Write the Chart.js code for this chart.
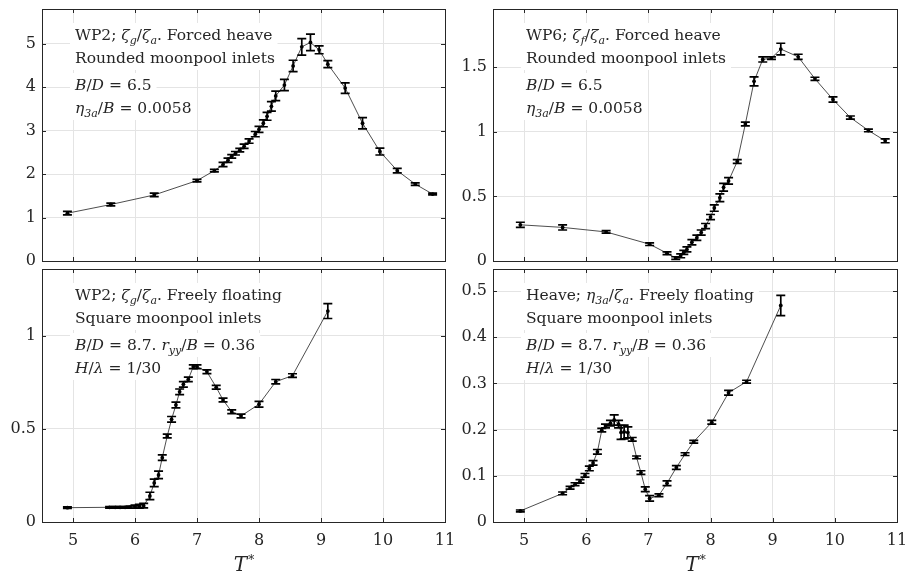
<!DOCTYPE html>
<html>
<head>
<meta charset="utf-8">
<script src="https://cdn.jsdelivr.net/npm/chart.js@4"></script>
<style>
body { margin: 0; background: #fff; width: 907px; height: 579px; overflow: hidden; }
canvas { position: absolute; }
</style>
</head>
<body>
<canvas id="tl" width="460" height="265" style="left:0;top:0"></canvas>
<canvas id="tr" width="457" height="265" style="left:450px;top:0"></canvas>
<canvas id="bl" width="460" height="314" style="left:0;top:265px"></canvas>
<canvas id="br" width="457" height="314" style="left:450px;top:265px"></canvas>
<script>
// x axis (T*) shared by all four panels
var xTicks = [5, 6, 7, 8, 9, 10, 11];

// WP2, forced heave, rounded inlets
var wp2ForcedT = [4.91, 5.61, 6.31, 7.00, 7.28, 7.42, 7.50, 7.56, 7.62, 7.69, 7.76, 7.84, 7.94, 8.00, 8.07, 8.13, 8.20, 8.27, 8.41, 8.55, 8.69, 8.83, 8.97, 9.11, 9.39, 9.67, 9.95, 10.23, 10.52, 10.80];
var wp2ForcedAmp = [1.10, 1.30, 1.52, 1.85, 2.08, 2.22, 2.32, 2.41, 2.48, 2.55, 2.64, 2.76, 2.92, 3.03, 3.17, 3.33, 3.56, 3.80, 4.05, 4.49, 4.93, 5.03, 4.86, 4.53, 3.98, 3.17, 2.52, 2.08, 1.77, 1.54];
var wp2ForcedErr = [0.04, 0.03, 0.04, 0.03, 0.03, 0.05, 0.05, 0.04, 0.04, 0.04, 0.05, 0.05, 0.06, 0.07, 0.08, 0.09, 0.11, 0.11, 0.13, 0.13, 0.19, 0.19, 0.09, 0.08, 0.12, 0.13, 0.08, 0.05, 0.03, 0.02];
var wp2ForcedTicks = [0, 1, 2, 3, 4, 5];

// WP6, forced heave, rounded inlets
var wp6ForcedT = [4.94, 5.62, 6.32, 7.02, 7.30, 7.44, 7.52, 7.57, 7.62, 7.70, 7.78, 7.85, 7.92, 8.00, 8.06, 8.15, 8.21, 8.29, 8.43, 8.56, 8.70, 8.84, 8.98, 9.13, 9.41, 9.68, 9.97, 10.25, 10.54, 10.81];
var wp6ForcedAmp = [0.28, 0.26, 0.225, 0.13, 0.06, 0.023, 0.04, 0.067, 0.09, 0.145, 0.18, 0.22, 0.27, 0.34, 0.41, 0.49, 0.57, 0.62, 0.77, 1.06, 1.39, 1.56, 1.57, 1.64, 1.58, 1.41, 1.25, 1.11, 1.01, 0.93];
var wp6ForcedErr = [0.02, 0.02, 0.01, 0.01, 0.01, 0.01, 0.015, 0.015, 0.02, 0.02, 0.02, 0.02, 0.02, 0.02, 0.025, 0.03, 0.03, 0.025, 0.015, 0.015, 0.035, 0.02, 0.01, 0.045, 0.02, 0.012, 0.02, 0.012, 0.01, 0.015];
var wp6ForcedTicks = [0, 0.5, 1, 1.5];

// WP2, freely floating, square inlets
var wp2FreeT = [4.91, 5.59, 5.68, 5.76, 5.84, 5.92, 6.00, 6.07, 6.14, 6.24, 6.31, 6.38, 6.44, 6.52, 6.59, 6.66, 6.72, 6.78, 6.86, 6.94, 7.00, 7.16, 7.31, 7.42, 7.56, 7.71, 8.00, 8.27, 8.54, 9.11];
var wp2FreeAmp = [0.077, 0.079, 0.079, 0.079, 0.079, 0.080, 0.083, 0.085, 0.088, 0.140, 0.210, 0.253, 0.346, 0.462, 0.552, 0.629, 0.700, 0.740, 0.767, 0.835, 0.835, 0.808, 0.724, 0.656, 0.593, 0.570, 0.633, 0.754, 0.787, 1.134];
var wp2FreeErr = [0.004, 0.004, 0.004, 0.004, 0.004, 0.006, 0.008, 0.01, 0.012, 0.02, 0.02, 0.02, 0.015, 0.01, 0.015, 0.015, 0.015, 0.015, 0.012, 0.01, 0.01, 0.01, 0.01, 0.01, 0.01, 0.01, 0.015, 0.012, 0.01, 0.04];
var wp2FreeTicks = [0, 0.5, 1];

// heave, freely floating, square inlets
var heaveFreeT = [4.94, 5.62, 5.74, 5.82, 5.90, 5.98, 6.05, 6.11, 6.18, 6.25, 6.31, 6.39, 6.45, 6.52, 6.56, 6.61, 6.67, 6.74, 6.81, 6.88, 6.95, 7.02, 7.17, 7.30, 7.45, 7.59, 7.73, 8.02, 8.29, 8.58, 9.13];
var heaveFreeAmp = [0.024, 0.062, 0.074, 0.082, 0.088, 0.101, 0.116, 0.128, 0.152, 0.199, 0.208, 0.214, 0.221, 0.212, 0.194, 0.195, 0.194, 0.179, 0.140, 0.107, 0.071, 0.051, 0.058, 0.084, 0.118, 0.147, 0.174, 0.216, 0.280, 0.304, 0.469];
var heaveFreeErr = [0.002, 0.003, 0.003, 0.003, 0.004, 0.004, 0.005, 0.005, 0.005, 0.004, 0.004, 0.006, 0.011, 0.008, 0.015, 0.015, 0.012, 0.004, 0.003, 0.004, 0.005, 0.006, 0.003, 0.005, 0.004, 0.003, 0.003, 0.004, 0.005, 0.003, 0.022];
var heaveFreeTicks = [0, 0.1, 0.2, 0.3, 0.4, 0.5];

var FAM = '"DejaVu Serif"';
var INK = '#262626';

// annotation text: r = roman, i = italic, s = subscript
var notes = {
  tl: [
    [['r','WP2; '],['i','ζ'],['s','g'],['r','/'],['i','ζ'],['s','a'],['r','. Forced heave']],
    [['r','Rounded moonpool inlets']],
    [['i','B'],['r','/'],['i','D'],['r',' = 6.5']],
    [['i','η'],['s','3a'],['r','/'],['i','B'],['r',' = 0.0058']]
  ],
  tr: [
    [['r','WP6; '],['i','ζ'],['s','f'],['r','/'],['i','ζ'],['s','a'],['r','. Forced heave']],
    [['r','Rounded moonpool inlets']],
    [['i','B'],['r','/'],['i','D'],['r',' = 6.5']],
    [['i','η'],['s','3a'],['r','/'],['i','B'],['r',' = 0.0058']]
  ],
  bl: [
    [['r','WP2; '],['i','ζ'],['s','g'],['r','/'],['i','ζ'],['s','a'],['r','. Freely floating']],
    [['r','Square moonpool inlets']],
    [['i','B'],['r','/'],['i','D'],['r',' = 8.7. '],['i','r'],['s','yy'],['r','/'],['i','B'],['r',' = 0.36']],
    [['i','H'],['r','/'],['i','λ'],['r',' = 1/30']]
  ],
  br: [
    [['r','Heave; '],['i','η'],['s','3a'],['r','/'],['i','ζ'],['s','a'],['r','. Freely floating']],
    [['r','Square moonpool inlets']],
    [['i','B'],['r','/'],['i','D'],['r',' = 8.7. '],['i','r'],['s','yy'],['r','/'],['i','B'],['r',' = 0.36']],
    [['i','H'],['r','/'],['i','λ'],['r',' = 1/30']]
  ]
};
var noteBase = [31, 54, 81, 104];

function segFont(k) {
  if (k == 'i') return 'italic 15.5px ' + FAM;
  if (k == 's') return 'italic 11px ' + FAM;
  return '15.5px ' + FAM;
}
function richWidth(ctx, segs) {
  var w = 0;
  segs.forEach(function(s) { ctx.font = segFont(s[0]); w += ctx.measureText(s[1]).width; });
  return w;
}
function drawRich(ctx, segs, x, y) {
  segs.forEach(function(s) {
    ctx.font = segFont(s[0]);
    ctx.fillText(s[1], x, s[0] == 's' ? y + 4 : y);
    x += ctx.measureText(s[1]).width;
  });
}

var panelDeco = {
  id: 'panelDeco',
  beforeDatasetsDraw: function(chart) {
    var ctx = chart.ctx, a = chart.chartArea, lines = notes[chart.canvas.id];
    ctx.save();
    ctx.textBaseline = 'alphabetic';
    lines.forEach(function(segs, i) {
      var x = a.left + 33, y = a.top + noteBase[i];
      var w = richWidth(ctx, segs);
      ctx.fillStyle = '#fff';
      ctx.fillRect(x - 5, y - 17, w + 10, 24);
      ctx.fillStyle = INK;
      drawRich(ctx, segs, x, y);
    });
    ctx.restore();
  },
  afterDatasetsDraw: function(chart) {
    var ctx = chart.ctx, xs = chart.scales.x, ys = chart.scales.y;
    var ds = chart.data.datasets[0];
    ctx.save();
    ctx.strokeStyle = '#000';
    ctx.lineWidth = 1.7;
    ds.data.forEach(function(p, i) {
      var px = xs.getPixelForValue(p.x);
      var y1 = ys.getPixelForValue(p.y - ds.errors[i]);
      var y2 = ys.getPixelForValue(p.y + ds.errors[i]);
      ctx.beginPath();
      ctx.moveTo(px, y1); ctx.lineTo(px, y2);
      ctx.moveTo(px - 4.5, y1); ctx.lineTo(px + 4.5, y1);
      ctx.moveTo(px - 4.5, y2); ctx.lineTo(px + 4.5, y2);
      ctx.stroke();
    });
    ctx.restore();
  },
  afterDraw: function(chart) {
    var ctx = chart.ctx, a = chart.chartArea, xs = chart.scales.x, ys = chart.scales.y;
    ctx.save();
    ctx.strokeStyle = INK;
    ctx.lineWidth = 1;
    ctx.strokeRect(Math.round(a.left) + 0.5, Math.round(a.top) + 0.5, Math.round(a.right - a.left), Math.round(a.bottom - a.top));
    ctx.beginPath();
    xs.ticks.forEach(function(t) {
      var px = Math.round(xs.getPixelForValue(t.value)) + 0.5;
      ctx.moveTo(px, a.bottom); ctx.lineTo(px, a.bottom - 4);
      ctx.moveTo(px, a.top); ctx.lineTo(px, a.top + 4);
    });
    ys.ticks.forEach(function(t) {
      var py = Math.round(ys.getPixelForValue(t.value)) + 0.5;
      ctx.moveTo(a.left, py); ctx.lineTo(a.left + 4, py);
      ctx.moveTo(a.right, py); ctx.lineTo(a.right - 4, py);
    });
    ctx.stroke();
    if (chart.canvas.id == 'bl' || chart.canvas.id == 'br') {
      var cx = (a.left + a.right) / 2, cy = a.bottom + 49;
      ctx.fillStyle = INK;
      ctx.font = 'italic 20px ' + FAM;
      var w = ctx.measureText('T').width;
      ctx.fillText('T', cx - w / 2 - 3, cy);
      ctx.font = '12px ' + FAM;
      ctx.fillText('*', cx + w / 2 - 2, cy - 7);
    }
    ctx.restore();
  }
};

function makePanel(id, T, amp, err, yMax, yTicks, yWidth, padRight, bottomRow) {
  var pts = T.map(function(t, i) { return { x: t, y: amp[i] }; });
  return new Chart(document.getElementById(id), {
    type: 'line',
    data: {
      datasets: [{
        data: pts,
        errors: err,
        borderColor: '#3a3a3a',
        borderWidth: 0.9,
        pointRadius: 1.9,
        pointBackgroundColor: '#000',
        pointBorderWidth: 0,
        tension: 0
      }]
    },
    options: {
      responsive: false,
      animation: false,
      events: [],
      layout: { padding: { left: 0, right: padRight, top: bottomRow ? 4 : 9, bottom: bottomRow ? 0 : 3 } },
      plugins: { legend: { display: false }, tooltip: { enabled: false } },
      scales: {
        x: {
          type: 'linear', min: 4.5, max: 11,
          afterBuildTicks: function(s) { s.ticks = xTicks.map(function(v) { return { value: v }; }); },
          grid: { color: '#e4e4e4', drawTicks: false },
          border: { display: false },
          ticks: { display: bottomRow, padding: 9, color: INK, font: { family: 'DejaVu Serif', size: 16 },
                   callback: function(v) { return String(v); } },
          afterFit: function(s) { s.height = bottomRow ? 57 : 0; s.paddingLeft = 0; s.paddingRight = 0; }
        },
        y: {
          type: 'linear', min: 0, max: yMax,
          afterBuildTicks: function(s) { s.ticks = yTicks.map(function(v) { return { value: v }; }); },
          grid: { color: '#e4e4e4', drawTicks: false },
          border: { display: false },
          ticks: { padding: 6, color: INK, font: { family: 'DejaVu Serif', size: 16 },
                   callback: function(v) { return String(v); } },
          afterFit: function(s) { s.width = yWidth; s.paddingTop = 0; s.paddingBottom = 0; }
        }
      }
    },
    plugins: [panelDeco]
  });
}

makePanel('tl', wp2ForcedT, wp2ForcedAmp, wp2ForcedErr, 5.8, wp2ForcedTicks, 42, 15, false);
makePanel('tr', wp6ForcedT, wp6ForcedAmp, wp6ForcedErr, 1.95, wp6ForcedTicks, 43, 10, false);
makePanel('bl', wp2FreeT, wp2FreeAmp, wp2FreeErr, 1.36, wp2FreeTicks, 42, 15, true);
makePanel('br', heaveFreeT, heaveFreeAmp, heaveFreeErr, 0.548, heaveFreeTicks, 43, 10, true);
</script>
</body>
</html>
